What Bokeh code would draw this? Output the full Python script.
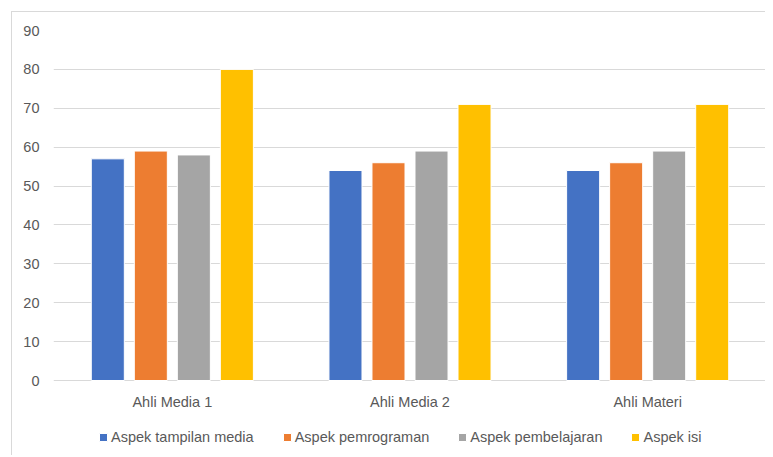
from bokeh.plotting import figure
from bokeh.models import FactorRange, Range1d, FixedTicker, Legend
from bokeh.core.properties import value
from bokeh.transform import dodge
from bokeh.embed import file_html
from bokeh.resources import INLINE

categories = ["Ahli Media 1", "Ahli Media 2", "Ahli Materi"]
series_names = ["Aspek tampilan media", "Aspek pemrograman", "Aspek pembelajaran", "Aspek isi"]
tampilan_media = [57, 54, 54]
pemrograman = [59, 56, 56]
pembelajaran = [58, 59, 59]
isi = [80, 71, 71]
y_ticks = [0, 10, 20, 30, 40, 50, 60, 70, 80, 90]
colors = ["#4472C4", "#ED7D31", "#A5A5A5", "#FFC000"]
offsets = [-0.2715, -0.0905, 0.0905, 0.2715]

FONT = "Liberation Sans"
TXT = "#595959"

# plot area: 350 px for the 0..90 value range, plus 76 px below 0 for labels and legend
Y_MAX = 90
Y_MIN = -Y_MAX * 76 / 350

data = {"cat": categories, "s0": tampilan_media, "s1": pemrograman, "s2": pembelajaran, "s3": isi}

p = figure(width=754, height=444, x_range=FactorRange(*categories), y_range=Range1d(Y_MIN, Y_MAX),
           output_backend="svg", toolbar_location=None, tools="", x_axis_location=None,
           min_border_left=41, min_border_right=0, min_border_top=18, min_border_bottom=0)
p.styles = {"margin-left": "11px", "margin-top": "11px",
            "border-left": "1px solid #D9D9D9", "border-top": "1px solid #D9D9D9"}
p.outline_line_color = None
p.background_fill_color = "white"
p.border_fill_color = "white"

renderers = []
for i, name in enumerate(series_names):
    r = p.vbar(x=dodge("cat", offsets[i], range=p.x_range), top="s%d" % i, width=0.139,
               source=data, fill_color=colors[i], line_color="white", line_width=1)
    renderers.append((name, [r]))

# category labels under the value axis
p.text(x=categories, y=[0] * len(categories), text=categories, y_offset=21,
       text_align="center", text_baseline="middle",
       text_font=value(FONT), text_font_size="14.5px", text_color=TXT)

p.xgrid.grid_line_color = None
p.ygrid.grid_line_color = "#D9D9D9"
p.ygrid.grid_line_width = 1
p.yaxis.ticker = FixedTicker(ticks=y_ticks)

ax = p.yaxis[0]
ax.axis_line_color = None
ax.major_tick_line_color = None
ax.minor_tick_line_color = None
ax.major_tick_out = 0
ax.major_tick_in = 0
ax.minor_tick_out = 0
ax.major_label_text_font = FONT
ax.major_label_text_font_size = "14.5px"
ax.major_label_text_color = TXT
ax.major_label_standoff = 14

legend = Legend(items=renderers, orientation="horizontal", location=(45, 11),
                padding=0, margin=0, spacing=28, label_standoff=3,
                glyph_width=10, glyph_height=10, label_height=16,
                label_text_font=FONT, label_text_font_size="14.5px", label_text_color=TXT,
                border_line_color=None, background_fill_alpha=0)
p.add_layout(legend, "center")

open("out.html", "w").write(file_html(p, INLINE))
